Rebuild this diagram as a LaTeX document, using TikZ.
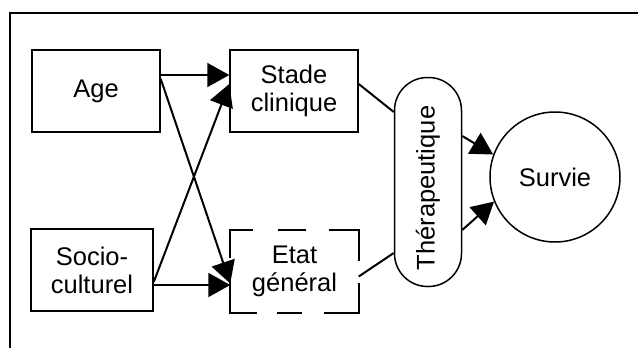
\documentclass[tikz,border=0pt]{standalone}
\usepackage{fontspec}
\setmainfont{Liberation Sans}
\usetikzlibrary{arrows.meta,shapes.geometric}
\begin{document}
\begin{tikzpicture}[x=1pt,y=-1pt,
  txt/.style={font=\fontsize{25.5}{28}\selectfont},
  box/.style={draw,line width=1.5pt,minimum width=128pt,minimum height=82pt,align=center,txt,inner sep=0pt},
  arr/.style={line width=2pt,-{Triangle[length=22pt,width=24pt]}},
  ln/.style={line width=2pt},
  dsh/.style={line width=1.8pt}]
\useasboundingbox (0,0) rectangle (638,348);
\draw[line width=1.5pt] (10,348) -- (10,13) -- (638,13);
\node[box] (age) at (96,91) {Age};
\node[box] (stade) at (294,91) {Stade\\clinique};
\node[box,minimum width=122pt] (socio) at (92,270) {Socio-\\culturel};
\node[box,draw=none,minimum width=127pt,minimum height=81pt] (etat) at (294.5,271.5) {Etat\\général};
% dashed outline of Etat general
\draw[dsh] ([shift={(0,28)}]etat.north west) -- (etat.north west) -- ([shift={(23,0)}]etat.north west);
\draw[dsh] ([shift={(48,0)}]etat.north west) -- ([shift={(76,0)}]etat.north west);
\draw[dsh] ([shift={(-30,0)}]etat.north east) -- (etat.north east) -- ([shift={(0,31)}]etat.north east);
\draw[dsh] ([shift={(0,-32)}]etat.south west) -- (etat.south west) -- ([shift={(27,0)}]etat.south west);
\draw[dsh] ([shift={(47,0)}]etat.south west) -- ([shift={(72,0)}]etat.south west);
\draw[dsh] ([shift={(-35,0)}]etat.south east) -- (etat.south east) -- ([shift={(0,-30)}]etat.south east);
\node[draw,line width=1.5pt,rounded corners=33pt,minimum width=67pt,minimum height=209pt,inner sep=0pt] (thera) at (428,182) {};
\node[rotate=90,txt,inner sep=0pt] (theratext) at ([yshift=-6pt]thera.center) {Thérapeutique};
\node[draw,circle,line width=1.5pt,minimum size=130pt,txt,inner sep=0pt] (survie) at (555,177) {Survie};
\draw[arr] (age.east |- 0,75) -- (stade.west |- 0,75);
\draw[arr] ([yshift=12pt]age.east) -- ([yshift=-12pt]etat.west);
\draw[arr] ([yshift=-12pt]socio.east) -- ([yshift=7pt]stade.west);
\draw[arr] (socio.east |- 0,285) -- (etat.west |- 0,285);
\draw[ln] ([yshift=7pt]stade.east) -- (thera.west |- 0,112);
\draw[ln] ([yshift=-5pt]etat.east) -- (thera.west |- 0,253);
\draw[arr] (thera.east |- 0,136) -- (survie.160);
\draw[arr] (thera.east |- 0,230) -- (survie.202);
\end{tikzpicture}
\end{document}
